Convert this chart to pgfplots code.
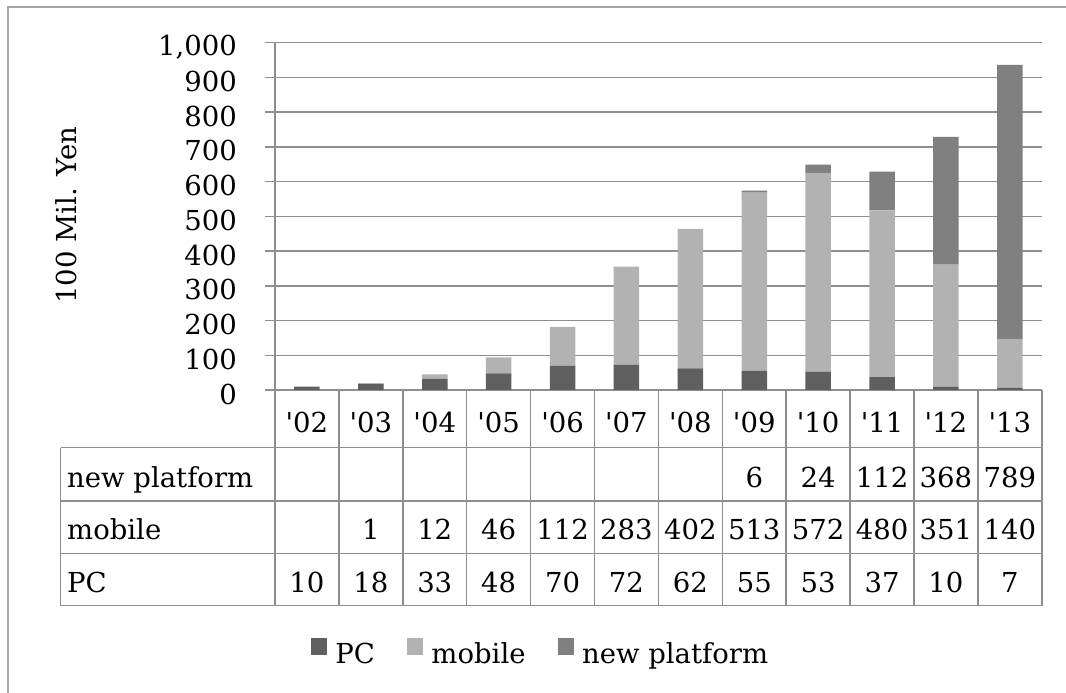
\documentclass[border=0pt]{standalone}
\usepackage{fontspec}
\usepackage{pgfplots}
\pgfplotsset{compat=1.18}
\newfontfamily\dv{DejaVu Serif}
\definecolor{pc}{HTML}{5F5F5F}
\definecolor{mob}{HTML}{B2B2B2}
\definecolor{newp}{HTML}{808080}
\definecolor{gridc}{HTML}{8E8E8E}
\definecolor{framec}{HTML}{A6A6A6}
\newcommand{\bigf}{\dv\fontsize{27.5}{33}\selectfont}
\begin{document}
\begin{tikzpicture}[x=1pt,y=1pt,font=\bigf]
\path[use as bounding box] (0,0) rectangle (1066,693);
\draw[framec, line width=2.2pt] (8,0) -- (8,686) -- (1066,686);
\begin{axis}[
  at={(275pt,303pt)}, anchor=south west,
  scale only axis, width=766.8pt, height=347.3pt,
  xmin=-0.5, xmax=11.5, ymin=0, ymax=1000,
  ybar stacked, bar width=25.5pt,
  axis line style={draw=none},
  xtick=\empty,
  ytick={0,100,...,1000},
  ytick pos=left,
  tick align=outside,
  major tick length=10pt,
  ytick style={draw=gridc, line width=1.5pt},
  ymajorgrids,
  major grid style={draw=gridc, line width=1.5pt},
  /pgf/number format/.cd, 1000 sep={,}, assume math mode=true, /pgfplots/.cd,
  yticklabel style={font=\bigf, inner sep=0pt, anchor=east, xshift=-28pt, yshift=-4pt},
  legend columns=-1,
  legend image code/.code={\fill[#1] (0pt,-1pt) rectangle (16.5pt,15.5pt);},
  legend style={draw=none, fill=none, inner sep=0pt, font=\bigf,
    at={(rel axis cs:0.0466,-0.753)}, anchor=west,
    nodes={inner sep=0pt},
    /tikz/every odd column/.append style={column sep=8pt},
    /tikz/every even column/.append style={column sep=32pt}},
]
\addplot[fill=pc, draw=none] coordinates {(0,10) (1,18) (2,33) (3,48) (4,70) (5,72) (6,62) (7,55) (8,53) (9,37) (10,10) (11,7)};
\addplot[fill=mob, draw=none] coordinates {(0,0) (1,1) (2,12) (3,46) (4,112) (5,283) (6,402) (7,513) (8,572) (9,480) (10,351) (11,140)};
\addplot[fill=newp, draw=none] coordinates {(0,0) (1,0) (2,0) (3,0) (4,0) (5,0) (6,0) (7,6) (8,24) (9,112) (10,368) (11,789)};
\legend{PC,mobile,new platform}
\end{axis}
% data table
\def\cw{63.9}
\draw[gridc, line width=1.5pt] (275,650.3) -- (275,87.3);
\foreach \k in {1,...,12}{
  \draw[gridc, line width=1.5pt] ({275+\k*\cw},303) -- ({275+\k*\cw},87.3);
}
\draw[gridc, line width=1.5pt] (60.7,245.3) -- (60.7,87.3);
\foreach \yy in {245.3,192.1,139.7,87.3}{
  \draw[gridc, line width=1.5pt] (60.7,\yy) -- ({275+12*\cw},\yy);
}
\foreach \lab [count=\i from 0] in {02,03,04,05,06,07,08,09,10,11,12,13}{
  \node[anchor=base, inner sep=0pt] at ({275+(\i+0.5)*\cw},260.7) {'\lab};
}
\node[anchor=base west, inner sep=0pt] at (67,205.4) {new platform};
\node[anchor=base west, inner sep=0pt] at (67,153.5) {mobile};
\node[anchor=base west, inner sep=0pt] at (67,100) {PC};
\foreach \v [count=\i from 0] in {,,,,,,,6,24,112,368,789}{
  \node[anchor=base, inner sep=0pt] at ({275+(\i+0.5)*\cw},205.4) {\v};
}
\foreach \v [count=\i from 0] in {,1,12,46,112,283,402,513,572,480,351,140}{
  \node[anchor=base, inner sep=0pt] at ({275+(\i+0.5)*\cw},153.5) {\v};
}
\foreach \v [count=\i from 0] in {10,18,33,48,70,72,62,55,53,37,10,7}{
  \node[anchor=base, inner sep=0pt] at ({275+(\i+0.5)*\cw},100) {\v};
}
\node[rotate=90, anchor=base, inner sep=0pt] at (76,478) {100 Mil. Yen};
\end{tikzpicture}
\end{document}
